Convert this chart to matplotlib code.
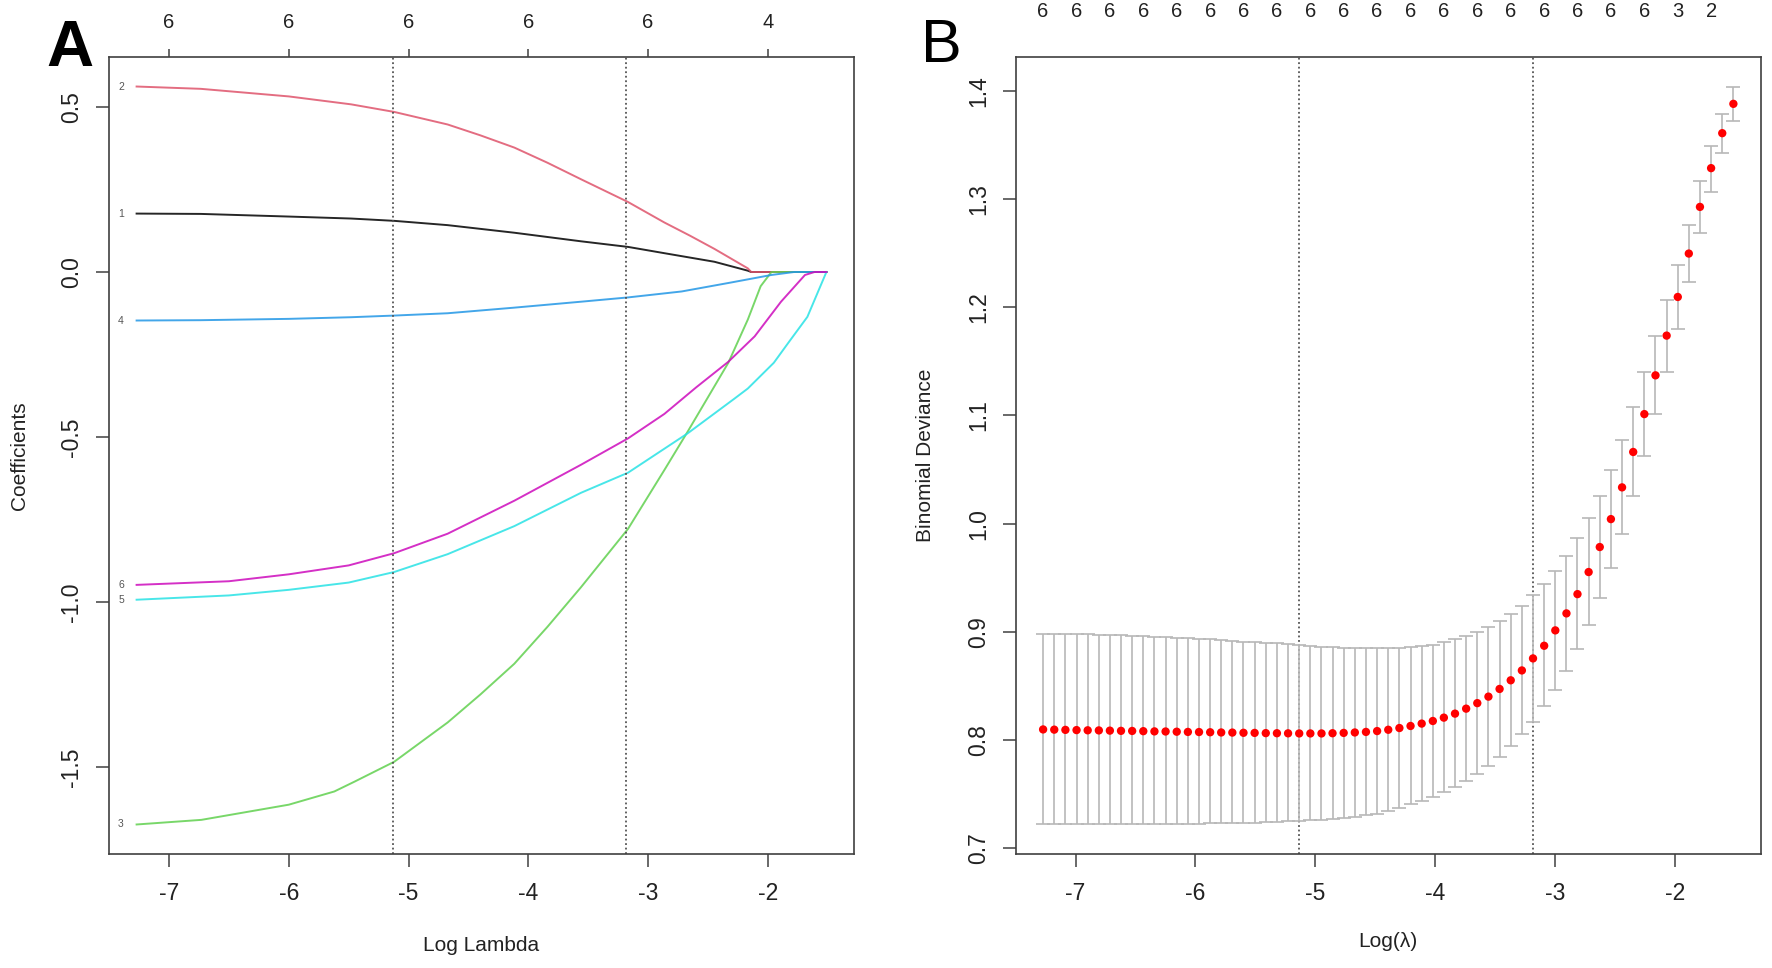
import matplotlib
matplotlib.use("Agg")
import matplotlib.pyplot as plt
import numpy as np

plt.rcParams['font.family'] = ['Liberation Sans', 'DejaVu Sans']
plt.rcParams['axes.unicode_minus'] = False  # R prints a plain hyphen

# ---- panel A: lasso coefficient paths ----
path_labels = ['1', '2', '3', '4', '5', '6']
path_colors = ['black', '#DF536B', '#61D04F', '#2297E6', '#28E2E5', '#CD0BBC']

x1 = [-7.271, -6.735, -6.0, -5.48, -5.12, -4.674, -4.117, -3.560, -3.167, -2.864, -2.446, -2.167, -2.139, -1.511]
y1 = [0.177, 0.176, 0.168, 0.162, 0.155, 0.142, 0.119, 0.093, 0.076, 0.057, 0.031, 0.004, 0.0, 0.0]

x2 = [-7.271, -6.735, -6.0, -5.48, -5.12, -4.674, -4.40, -4.117, -3.84, -3.560, -3.167, -2.864, -2.65, -2.446, -2.167, -2.139, -1.511]
y2 = [0.562, 0.555, 0.532, 0.508, 0.485, 0.447, 0.414, 0.377, 0.331, 0.281, 0.212, 0.150, 0.110, 0.070, 0.011, 0.0, 0.0]

x3 = [-7.271, -6.73, -6.0, -5.62, -5.45, -5.12, -4.674, -4.40, -4.117, -3.84, -3.560, -3.167, -2.864, -2.67, -2.33, -2.167, -2.06, -1.97, -1.511]
y3 = [-1.674, -1.660, -1.614, -1.574, -1.544, -1.484, -1.365, -1.280, -1.187, -1.075, -0.955, -0.778, -0.600, -0.484, -0.275, -0.144, -0.043, 0.0, 0.0]

x4 = [-7.271, -6.735, -6.0, -5.48, -5.12, -4.674, -4.117, -3.560, -3.167, -2.72, -2.31, -1.97, -1.78, -1.511]
y4 = [-0.147, -0.146, -0.142, -0.137, -0.132, -0.125, -0.108, -0.090, -0.077, -0.059, -0.032, -0.009, 0.0, 0.0]

x5 = [-7.271, -6.5, -6.0, -5.5, -5.12, -4.674, -4.117, -3.560, -3.167, -2.67, -2.28, -2.167, -1.95, -1.83, -1.67, -1.511]
y5 = [-0.993, -0.980, -0.963, -0.941, -0.909, -0.855, -0.770, -0.669, -0.608, -0.489, -0.384, -0.353, -0.275, -0.215, -0.136, 0.0]

x6 = [-7.271, -6.5, -6.0, -5.5, -5.12, -4.674, -4.117, -3.560, -3.167, -2.864, -2.6, -2.33, -2.11, -1.89, -1.69, -1.61, -1.511]
y6 = [-0.948, -0.937, -0.916, -0.889, -0.852, -0.793, -0.693, -0.584, -0.504, -0.430, -0.350, -0.272, -0.195, -0.090, -0.009, 0.0, 0.0]

df_ticks = [-7, -6, -5, -4, -3, -2]
df_labels = ['6', '6', '6', '6', '6', '4']

# ---- panel B: cross-validated binomial deviance ----
log_lambda = [-7.271, -7.178, -7.085, -6.992, -6.899, -6.806, -6.714, -6.621, -6.528, -6.435,
              -6.342, -6.249, -6.156, -6.063, -5.970, -5.877, -5.785, -5.692, -5.599, -5.506,
              -5.413, -5.320, -5.227, -5.134, -5.041, -4.948, -4.856, -4.763, -4.670, -4.577,
              -4.484, -4.391, -4.298, -4.205, -4.112, -4.019, -3.927, -3.834, -3.741, -3.648,
              -3.555, -3.462, -3.369, -3.276, -3.183, -3.090, -2.997, -2.904, -2.812, -2.719,
              -2.626, -2.533, -2.440, -2.347, -2.254, -2.161, -2.068, -1.975, -1.883, -1.790,
              -1.697, -1.604, -1.511]
cv_mean = [0.8099, 0.8097, 0.8095, 0.8093, 0.8091, 0.8090, 0.8088, 0.8086, 0.8085, 0.8083,
           0.8081, 0.8080, 0.8078, 0.8076, 0.8075, 0.8073, 0.8071, 0.8070, 0.8068, 0.8067,
           0.8065, 0.8064, 0.8063, 0.8062, 0.8062, 0.8062, 0.8064, 0.8067, 0.8071, 0.8076,
           0.8084, 0.8096, 0.8112, 0.8131, 0.8153, 0.8177, 0.8208, 0.8245, 0.8291, 0.8342,
           0.8402, 0.8473, 0.8553, 0.8644, 0.8755, 0.8872, 0.9014, 0.9171, 0.9349, 0.9553,
           0.9784, 1.0042, 1.0335, 1.0662, 1.1012, 1.1370, 1.1737, 1.2094, 1.2495, 1.2926,
           1.3284, 1.3607, 1.3878]
cv_upper = [0.8980, 0.8980, 0.8979, 0.8978, 0.8976, 0.8973, 0.8970, 0.8967, 0.8964, 0.8961,
            0.8957, 0.8953, 0.8948, 0.8942, 0.8936, 0.8930, 0.8924, 0.8917, 0.8911, 0.8905,
            0.8899, 0.8893, 0.8886, 0.8878, 0.8870, 0.8862, 0.8857, 0.8853, 0.8850, 0.8848,
            0.8848, 0.8850, 0.8853, 0.8858, 0.8867, 0.8881, 0.8903, 0.8931, 0.8961, 0.9001,
            0.9044, 0.9103, 0.9167, 0.9241, 0.9337, 0.9442, 0.9562, 0.9704, 0.9867, 1.0049,
            1.0258, 1.0498, 1.0773, 1.1078, 1.1398, 1.1734, 1.2064, 1.2387, 1.2763, 1.3166,
            1.3493, 1.3786, 1.4038]
cv_lower = [0.7221, 0.7221, 0.7221, 0.7221, 0.7222, 0.7222, 0.7223, 0.7223, 0.7224, 0.7225,
            0.7226, 0.7227, 0.7228, 0.7229, 0.7230, 0.7231, 0.7233, 0.7235, 0.7237, 0.7239,
            0.7242, 0.7246, 0.7250, 0.7254, 0.7259, 0.7264, 0.7272, 0.7282, 0.7293, 0.7306,
            0.7322, 0.7345, 0.7373, 0.7406, 0.7439, 0.7473, 0.7517, 0.7566, 0.7621, 0.7689,
            0.7762, 0.7846, 0.7942, 0.8053, 0.8169, 0.8314, 0.8465, 0.8641, 0.8838, 0.9060,
            0.9310, 0.9590, 0.9904, 1.0252, 1.0628, 1.1010, 1.1404, 1.1799, 1.2230, 1.2689,
            1.3067, 1.3428, 1.3721]
nzero = [6] * 55 + [4, 4, 3, 3, 3, 2, 2, 1]

lambda_min_log = -5.134
lambda_1se_log = -3.183

TXT = '#222222'
SPINE = '#404040'


def style_axes(ax):
    for s in ax.spines.values():
        s.set_color(SPINE)
        s.set_linewidth(1.2)
    ax.tick_params(axis='both', direction='out', length=9.4, width=1.1, color=SPINE,
                   labelsize=16.5, labelcolor=TXT)
    ax.tick_params(axis='x', pad=11)
    ax.tick_params(axis='y', pad=9)
    for t in ax.get_yticklabels():
        t.set_rotation(90)
        t.set_va('center')


def rpad(lo, hi):
    d = (hi - lo) * 0.04
    return lo - d, hi + d


fig = plt.figure(figsize=(17.72, 9.68), dpi=100)

# ---------------- A ----------------
axA = fig.add_axes([109 / 1772, 1 - 854 / 968, 745 / 1772, 797 / 968])
paths_x = [x1, x2, x3, x4, x5, x6]
paths_y = [y1, y2, y3, y4, y5, y6]
for lab, col, xs, ys in zip(path_labels, path_colors, paths_x, paths_y):
    axA.plot(xs, ys, color=col, lw=1.4, alpha=0.85, solid_joinstyle='round')
    axA.text(xs[0] - 0.13, ys[0], lab, fontsize=7.5, color='#555555', ha='center', va='center')

axA.axvline(lambda_min_log, color='#555555', lw=1.3, ls=(0, (1, 1.5)))
axA.axvline(lambda_1se_log, color='#555555', lw=1.3, ls=(0, (1, 1.5)))

all_y = y1 + y2 + y3 + y4 + y5 + y6
axA.set_xlim(*rpad(log_lambda[0], log_lambda[-1]))
axA.set_ylim(*rpad(min(all_y), max(all_y)))
axA.set_xticks([-7, -6, -5, -4, -3, -2])
axA.set_yticks([-1.5, -1.0, -0.5, 0.0, 0.5])
axA.set_yticklabels(['-1.5', '-1.0', '-0.5', '0.0', '0.5'])
style_axes(axA)
axA.set_xlabel('Log Lambda', fontsize=15, color=TXT, va='center')
axA.xaxis.set_label_coords(0.5, -0.1154)
axA.set_ylabel('Coefficients', fontsize=15, color=TXT, va='center')
axA.yaxis.set_label_coords(-0.1195, 0.5)

topA = axA.secondary_xaxis('top')
topA.set_xticks(df_ticks)
topA.set_xticklabels(df_labels)
topA.tick_params(axis='x', direction='out', length=5.8, width=1.1, color=SPINE,
                 labelsize=14.5, labelcolor=TXT, pad=12)
topA.spines['top'].set_visible(False)

fig.text(70 / 1772, 1 - 49 / 968, 'A', fontsize=47, fontweight='bold',
         ha='center', va='center', color='black')

# ---------------- B ----------------
axB = fig.add_axes([1015.5 / 1772, 1 - 854 / 968, 745.5 / 1772, 797 / 968])
mean = np.array(cv_mean)
err_lo = mean - np.array(cv_lower)
err_hi = np.array(cv_upper) - mean
axB.errorbar(log_lambda, cv_mean, yerr=[err_lo, err_hi], fmt='none', ecolor='#B8B8B8',
             elinewidth=1.2, capsize=5, capthick=1.2, zorder=2)
axB.scatter(log_lambda, cv_mean, s=36, color='red', edgecolors='none', zorder=3)
axB.axvline(lambda_min_log, color='#555555', lw=1.3, ls=(0, (1, 1.5)), zorder=1)
axB.axvline(lambda_1se_log, color='#555555', lw=1.3, ls=(0, (1, 1.5)), zorder=1)

axB.set_xlim(*rpad(log_lambda[0], log_lambda[-1]))
axB.set_ylim(*rpad(min(cv_lower), max(cv_upper)))
axB.set_xticks([-7, -6, -5, -4, -3, -2])
axB.set_yticks([0.7, 0.8, 0.9, 1.0, 1.1, 1.2, 1.3, 1.4])
axB.set_yticklabels(['0.7', '0.8', '0.9', '1.0', '1.1', '1.2', '1.3', '1.4'])
style_axes(axB)
axB.set_xlabel('Log(λ)', fontsize=15, color=TXT, va='center')
axB.xaxis.set_label_coords(0.5, -0.110)
axB.set_ylabel('Binomial Deviance', fontsize=15, color=TXT, va='center')
axB.yaxis.set_label_coords(-0.1207, 0.5)

topB = axB.secondary_xaxis('top')
topB.set_xticks(log_lambda[::3])
topB.set_xticklabels([str(n) for n in nzero[::3]])
topB.tick_params(axis='x', length=0, labelsize=14.5, labelcolor=TXT, pad=26)
topB.spines['top'].set_visible(False)

fig.text(941 / 1772, 1 - 46 / 968, 'B', fontsize=44, ha='center', va='center', color='black')

fig.savefig('out.png', dpi=100)
